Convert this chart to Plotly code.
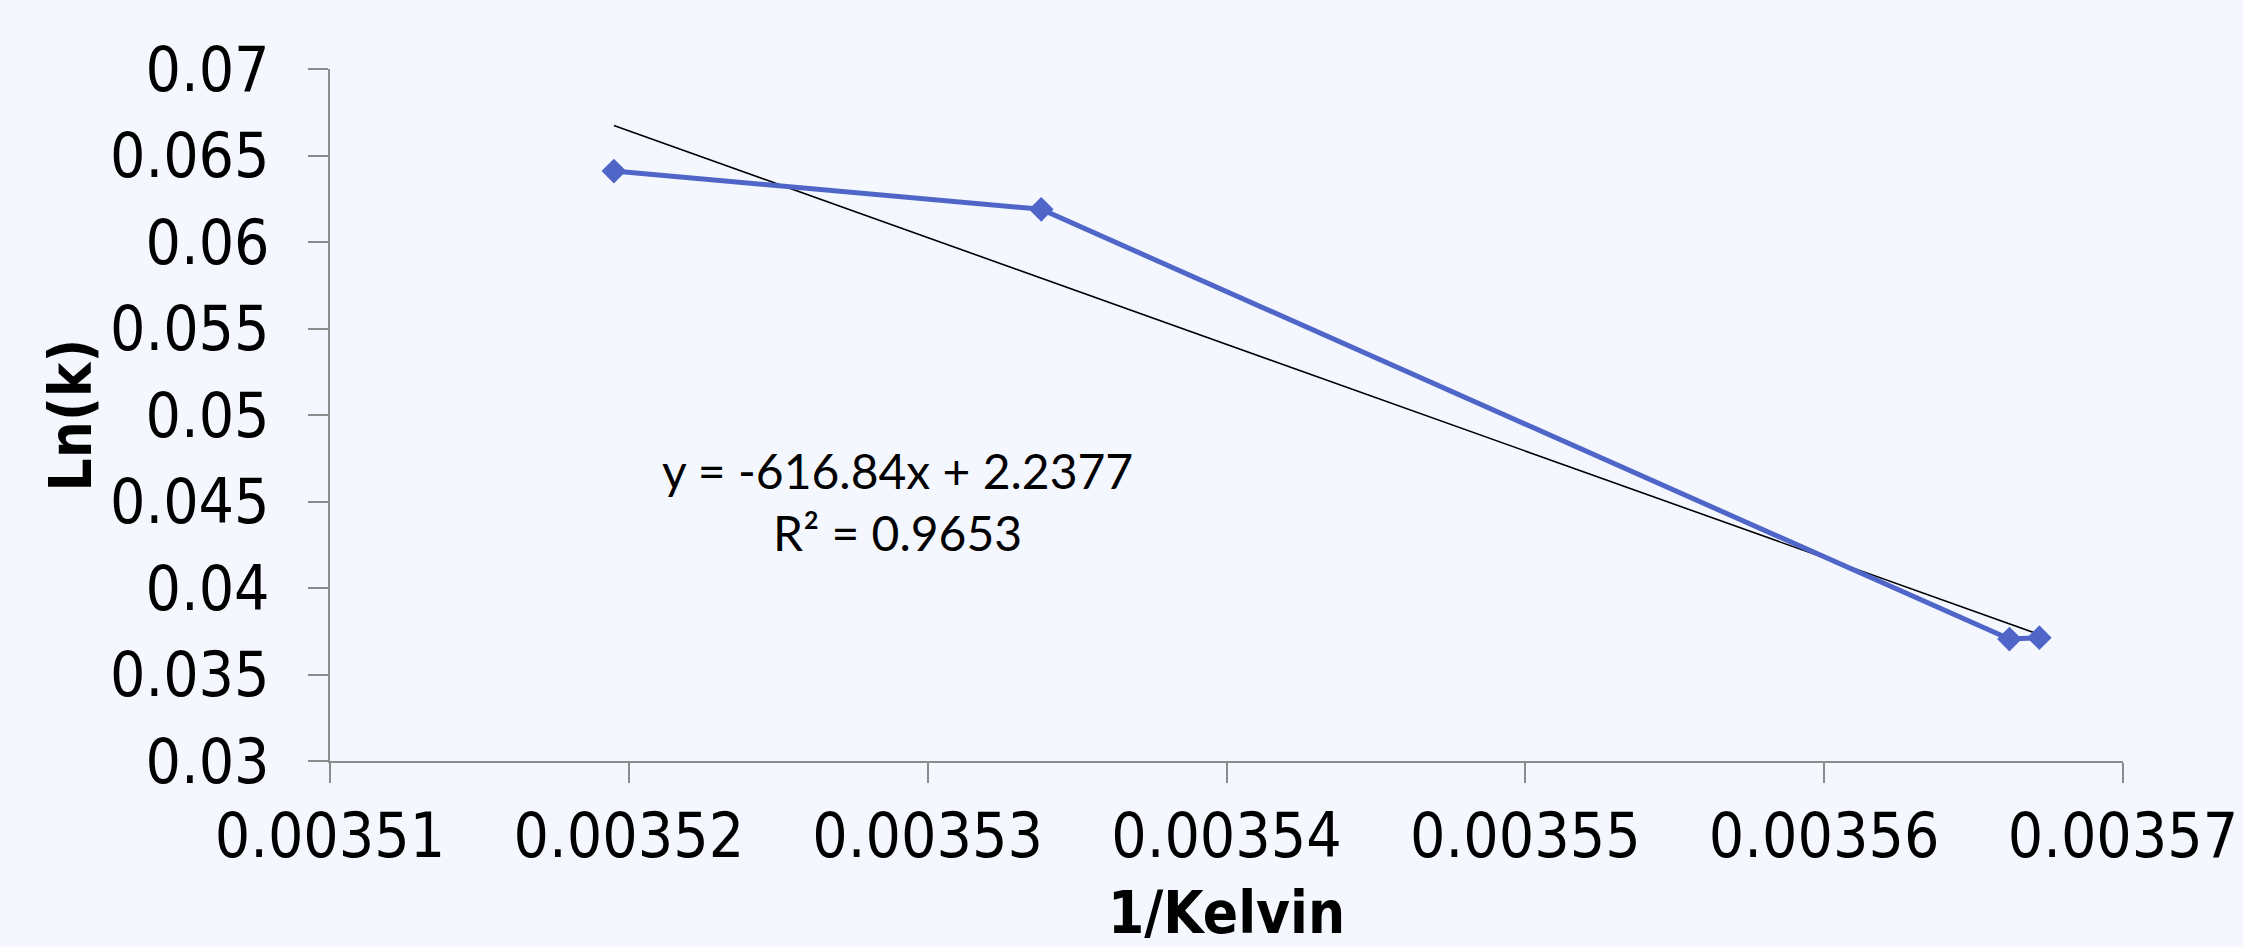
import plotly.graph_objects as go

# Data
inv_kelvin = [0.0035195, 0.0035338, 0.0035662, 0.0035672]
ln_k = [0.06410, 0.06189, 0.03705, 0.03713]

# Linear trendline coefficients (as printed on the chart)
slope = -616.84
intercept = 2.2377
r_squared = 0.9653

x_ticks = [0.00351, 0.00352, 0.00353, 0.00354, 0.00355, 0.00356, 0.00357]
x_tick_labels = ["0.00351", "0.00352", "0.00353", "0.00354", "0.00355", "0.00356", "0.00357"]
y_ticks = [0.03, 0.035, 0.04, 0.045, 0.05, 0.055, 0.06, 0.065, 0.07]
y_tick_labels = ["0.03", "0.035", "0.04", "0.045", "0.05", "0.055", "0.06", "0.065", "0.07"]

trend_x = [min(inv_kelvin), max(inv_kelvin)]
trend_y = [slope * v + intercept for v in trend_x]

TICK_FONT = "DejaVu Sans Condensed, Liberation Sans, sans-serif"

fig = go.Figure()
fig.add_trace(go.Scatter(
    x=trend_x, y=trend_y, mode="lines",
    line=dict(color="black", width=1.6), hoverinfo="skip", showlegend=False))
fig.add_trace(go.Scatter(
    x=inv_kelvin, y=ln_k, mode="lines+markers",
    line=dict(color="#4F66C8", width=5),
    marker=dict(symbol="diamond", size=19, color="#4F66C8"),
    showlegend=False))

axis_common = dict(showgrid=False, zeroline=False, showline=True, linecolor="#8C8C8C",
                   linewidth=2, ticks="outside", tickcolor="#8C8C8C", ticklen=20, tickwidth=1.5,
                   automargin=False)

fig.update_xaxes(range=[0.00351, 0.00357], tickvals=x_ticks, ticktext=x_tick_labels,
                 tickfont=dict(family=TICK_FONT, size=62, color="black"),
                 title=dict(text="<b>1/Kelvin</b>", font=dict(family=TICK_FONT, size=58, color="black"),
                            standoff=40),
                 ticklabelstandoff=0, ticklabeloverflow="allow",
                 **axis_common)
fig.update_yaxes(range=[0.03, 0.07], tickvals=y_ticks, ticktext=y_tick_labels,
                 tickfont=dict(family=TICK_FONT, size=62, color="black"),
                 title=dict(text="<b>Ln(k)</b>", font=dict(family=TICK_FONT, size=58, color="black"),
                            standoff=0),
                 ticklabelstandoff=26,
                 **axis_common)

fig.add_annotation(
    x=0.003529, y=0.0450, xref="x", yref="y",
    text=f"y = {slope}x + {intercept}<br>R² = {r_squared}",
    showarrow=False, align="center",
    font=dict(family="Lato", size=48, color="black"))

fig.update_layout(
    width=2243, height=947,
    margin=dict(l=330, r=120, t=69, b=186),
    paper_bgcolor="#F4F8FE", plot_bgcolor="rgba(0,0,0,0)",
)

fig.write_html("out.html", config={"displayModeBar": False},
               post_script="document.body.style.margin='0';document.body.style.background='#F4F8FE';")
